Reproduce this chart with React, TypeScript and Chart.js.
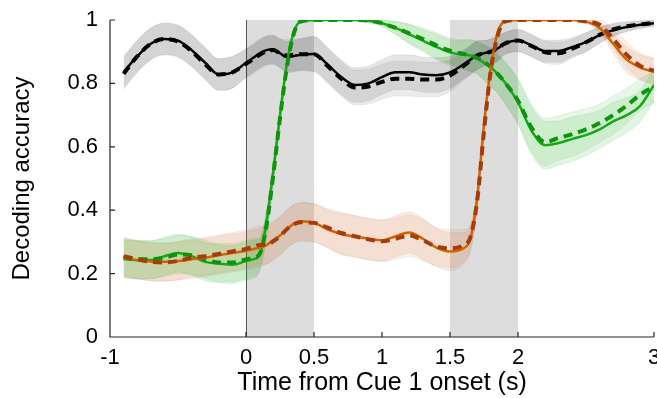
import React, { useEffect, useRef } from "react";
import { Chart, registerables } from "chart.js";

Chart.register(...registerables);

// Time grid (s from Cue 1 onset)
const T = [-0.9,-0.8,-0.7,-0.6,-0.5,-0.4,-0.3,-0.2,-0.1,0,0.05,0.1,0.15,0.2,0.25,0.3,0.35,0.4,0.5,0.6,0.7,0.8,0.9,1.0,1.1,1.2,1.3,1.4,1.5,1.6,1.65,1.7,1.75,1.8,1.85,1.9,2.0,2.1,2.2,2.3,2.4,2.5,2.6,2.7,2.8,2.9,3.0];

const blackSolid = [0.836,0.885,0.925,0.94,0.935,0.905,0.865,0.828,0.835,0.865,0.88,0.895,0.905,0.908,0.895,0.883,0.886,0.89,0.893,0.86,0.82,0.795,0.8,0.82,0.835,0.835,0.828,0.826,0.835,0.86,0.875,0.89,0.895,0.9,0.91,0.925,0.935,0.92,0.902,0.902,0.915,0.93,0.952,0.968,0.978,0.985,0.99];
const blackDashed = [0.83,0.885,0.925,0.94,0.932,0.902,0.86,0.828,0.835,0.862,0.875,0.89,0.902,0.905,0.895,0.888,0.89,0.892,0.892,0.855,0.815,0.787,0.79,0.805,0.815,0.815,0.812,0.812,0.825,0.855,0.872,0.888,0.895,0.9,0.91,0.925,0.935,0.918,0.898,0.895,0.91,0.93,0.953,0.97,0.98,0.986,0.99];
const blackBand = [0.05,0.05,0.05,0.05,0.05,0.05,0.05,0.05,0.05,0.045,0.045,0.045,0.045,0.045,0.045,0.05,0.05,0.05,0.055,0.055,0.055,0.055,0.055,0.055,0.055,0.055,0.055,0.055,0.05,0.045,0.045,0.045,0.04,0.04,0.04,0.035,0.035,0.035,0.035,0.035,0.03,0.03,0.025,0.02,0.015,0.012,0.01];

const greenSolid = [0.246,0.243,0.243,0.255,0.265,0.255,0.237,0.232,0.228,0.24,0.245,0.258,0.36,0.52,0.7,0.86,0.96,0.995,1.0,1.0,1.0,1.0,0.998,0.99,0.975,0.955,0.935,0.915,0.898,0.89,0.888,0.88,0.865,0.85,0.83,0.805,0.74,0.65,0.605,0.612,0.625,0.637,0.655,0.68,0.7,0.73,0.795];
const greenDashed = [0.25,0.245,0.245,0.25,0.26,0.258,0.245,0.235,0.235,0.245,0.25,0.262,0.35,0.51,0.69,0.85,0.955,0.995,1.0,1.0,1.0,1.0,0.998,0.99,0.975,0.958,0.94,0.92,0.903,0.893,0.888,0.88,0.868,0.852,0.83,0.805,0.745,0.66,0.615,0.628,0.64,0.655,0.675,0.7,0.73,0.765,0.79];
const greenBand = [0.06,0.06,0.06,0.06,0.06,0.06,0.06,0.06,0.06,0.06,0.06,0.05,0.04,0.03,0.02,0.01,0.005,0.004,0.003,0.003,0.003,0.003,0.005,0.01,0.02,0.03,0.035,0.04,0.04,0.045,0.05,0.05,0.055,0.06,0.06,0.065,0.07,0.075,0.075,0.07,0.07,0.065,0.06,0.06,0.055,0.05,0.05];

const orangeSolid = [0.25,0.242,0.238,0.237,0.24,0.245,0.25,0.258,0.265,0.272,0.277,0.282,0.29,0.305,0.32,0.34,0.357,0.365,0.36,0.34,0.325,0.317,0.31,0.305,0.318,0.33,0.31,0.282,0.27,0.28,0.31,0.44,0.67,0.85,0.96,0.995,1.0,1.0,1.0,1.0,1.0,0.995,0.975,0.925,0.875,0.85,0.836];
const orangeDashed = [0.255,0.245,0.237,0.235,0.24,0.25,0.255,0.262,0.27,0.278,0.285,0.29,0.29,0.302,0.318,0.34,0.355,0.362,0.36,0.345,0.328,0.318,0.308,0.302,0.31,0.32,0.305,0.285,0.28,0.29,0.315,0.43,0.65,0.84,0.95,0.995,1.0,1.0,1.0,1.0,1.0,0.995,0.985,0.94,0.89,0.855,0.84];
const orangeBand = [0.06,0.06,0.06,0.06,0.06,0.06,0.06,0.06,0.06,0.06,0.06,0.06,0.06,0.06,0.06,0.06,0.06,0.06,0.06,0.06,0.065,0.065,0.065,0.065,0.065,0.065,0.065,0.06,0.06,0.05,0.04,0.03,0.02,0.01,0.005,0.003,0.002,0.002,0.002,0.002,0.002,0.005,0.015,0.03,0.04,0.04,0.04];

const xTicks = [-1, 0, 0.5, 1, 1.5, 2, 3];
const yTicks = [0, 0.2, 0.4, 0.6, 0.8, 1];
const cueWindows = [[0, 0.5], [1.5, 2]];

const FONT = "'Liberation Sans', Arial, Helvetica, sans-serif";

function pts(ys: number[], offs?: number[], sign = 0) {
  return T.map((t, i) => ({ x: t, y: ys[i] + (offs ? sign * offs[i] : 0) }));
}

export default function App() {
  const ref = useRef<HTMLCanvasElement>(null);

  useEffect(() => {
    const canvas = ref.current!;
    const datasets: any[] = [];
    const addBand = (mean: number[], hw: number[], fillCol: string, edgeCol: string) => {
      const idx = datasets.length;
      datasets.push({
        data: pts(mean, hw, 1), borderColor: edgeCol, borderWidth: 0.8, pointRadius: 0,
        fill: false, cubicInterpolationMode: "monotone", order: 20,
      });
      datasets.push({
        data: pts(mean, hw, -1), borderColor: edgeCol, borderWidth: 0.8, pointRadius: 0,
        fill: idx, backgroundColor: fillCol, cubicInterpolationMode: "monotone", order: 20,
      });
    };
    const addLine = (ys: number[], col: string, dashed: boolean, order: number) => {
      datasets.push({
        data: pts(ys), borderColor: col, borderWidth: dashed ? 4 : 2.5,
        borderDash: dashed ? [9, 6] : [], pointRadius: 0, fill: false,
        cubicInterpolationMode: "monotone", order, borderCapStyle: "butt",
      });
    };

    addBand(blackSolid, blackBand, "rgba(0,0,0,0.10)", "rgba(0,0,0,0.08)");
    addBand(blackDashed, blackBand, "rgba(0,0,0,0.08)", "rgba(0,0,0,0.08)");
    addBand(greenSolid, greenBand, "rgba(20,170,20,0.12)", "rgba(20,140,20,0.12)");
    addBand(greenDashed, greenBand, "rgba(20,170,20,0.10)", "rgba(20,140,20,0.12)");
    addBand(orangeSolid, orangeBand, "rgba(210,110,50,0.13)", "rgba(150,90,60,0.12)");
    addBand(orangeDashed, orangeBand, "rgba(210,110,50,0.10)", "rgba(150,90,60,0.12)");

    addLine(blackSolid, "#000000", false, 6);
    addLine(blackDashed, "#000000", true, 5);
    addLine(greenSolid, "#17a817", false, 4);
    addLine(greenDashed, "#0a960a", true, 3);
    addLine(orangeSolid, "#d26400", false, 2);
    addLine(orangeDashed, "#a53c0a", true, 1);

    const bgPlugin = {
      id: "bg",
      beforeDatasetsDraw(chart: any) {
        const { ctx, scales } = chart;
        const xs = scales.x, ys = scales.y;
        ctx.save();
        ctx.fillStyle = "#dddddd";
        for (const [a, b] of cueWindows) {
          const x0 = xs.getPixelForValue(a), x1 = xs.getPixelForValue(b);
          const y0 = ys.getPixelForValue(1), y1 = ys.getPixelForValue(0);
          ctx.fillRect(x0, y0, x1 - x0, y1 - y0);
        }
        ctx.strokeStyle = "#555555";
        ctx.lineWidth = 1;
        const xz = Math.round(xs.getPixelForValue(0)) + 0.5;
        ctx.beginPath();
        ctx.moveTo(xz, ys.getPixelForValue(1));
        ctx.lineTo(xz, ys.getPixelForValue(0));
        ctx.stroke();
        ctx.restore();
      },
      afterDraw(chart: any) {
        const { ctx, scales } = chart;
        const xs = scales.x, ys = scales.y;
        const left = xs.left, bottom = ys.bottom;
        ctx.save();
        ctx.strokeStyle = "#262626";
        ctx.lineWidth = 1.2;
        ctx.beginPath();
        ctx.moveTo(left, ys.top);
        ctx.lineTo(left, bottom);
        ctx.lineTo(xs.right, bottom);
        for (const v of yTicks) {
          const y = ys.getPixelForValue(v);
          ctx.moveTo(left, y);
          ctx.lineTo(left + 5, y);
        }
        for (const v of xTicks) {
          const x = xs.getPixelForValue(v);
          ctx.moveTo(x, bottom);
          ctx.lineTo(x, bottom - 5);
        }
        ctx.stroke();
        ctx.restore();
      },
    };

    const chart = new Chart(canvas, {
      type: "line",
      data: { datasets },
      options: {
        responsive: false,
        animation: false,
        layout: { padding: { top: 20, right: 3, left: 0, bottom: 0 } },
        plugins: { legend: { display: false }, tooltip: { enabled: false } },
        scales: {
          x: {
            type: "linear", min: -1, max: 3,
            afterBuildTicks(scale: any) { scale.ticks = xTicks.map((v) => ({ value: v })); },
            afterFit(scale: any) { scale.height = 61; scale.paddingLeft = 0; scale.paddingRight = 0; },
            grid: { display: false, drawTicks: false },
            border: { display: false },
            ticks: {
              color: "#000", font: { family: FONT, size: 22 }, padding: 8,
              maxRotation: 0, autoSkip: false,
              callback: (v: any) => String(v),
            },
            title: {
              display: true, text: "Time from Cue 1 onset (s)", color: "#000",
              font: { family: FONT, size: 25 }, padding: { top: 0, bottom: 0 },
            },
          },
          y: {
            min: 0, max: 1,
            afterBuildTicks(scale: any) { scale.ticks = yTicks.map((v) => ({ value: v })); },
            afterFit(scale: any) { scale.width = 110; scale.paddingTop = 0; scale.paddingBottom = 0; },
            grid: { display: false, drawTicks: false },
            border: { display: false },
            ticks: {
              color: "#000", font: { family: FONT, size: 22 }, padding: 12,
              callback: (v: any) => String(v),
            },
            title: {
              display: true, text: "Decoding accuracy", color: "#000",
              font: { family: FONT, size: 24 }, padding: { top: 8, bottom: 0 },
            },
          },
        },
      },
      plugins: [bgPlugin],
    } as any);
    return () => chart.destroy();
  }, []);

  return (
    <div style={{ position: "fixed", left: 0, top: 0, width: 657, height: 398, background: "#fff" }}>
      <canvas ref={ref} width={657} height={398} style={{ width: 657, height: 398, display: "block" }} />
    </div>
  );
}
